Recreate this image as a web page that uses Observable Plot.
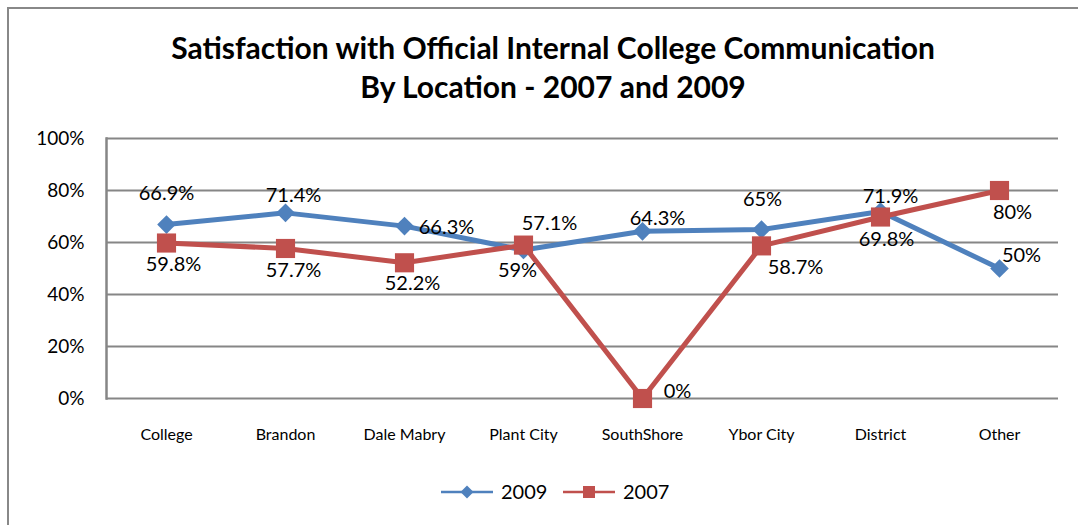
<!DOCTYPE html>
<html>
<head>
<meta charset="utf-8">
<script src="https://cdn.jsdelivr.net/npm/d3@7"></script>
<script src="https://cdn.jsdelivr.net/npm/@observablehq/plot@0.6"></script>
<style>
  html, body { margin: 0; padding: 0; background: #fff; }
  #wrap { position: relative; width: 1078px; height: 525px; overflow: hidden; background: #fff; font-family: Lato, "Open Sans", sans-serif; }
  #frame { position: absolute; left: 7px; top: 7px; width: 1200px; height: 700px; border-left: 2px solid #888; border-top: 2px solid #888; }
  #title { position: absolute; left: 0; top: 28px; width: 1106px; text-align: center; font-weight: bold; font-size: 30px; line-height: 39px; color: #000; }
  #chart { position: absolute; left: 0; top: 118px; }
  #legend { position: absolute; left: 0; top: 478px; width: 1078px; height: 30px; }
</style>
</head>
<body>
<div id="wrap">
  <div id="frame"></div>
  <div id="title">Satisfaction with Official Internal College Communication<br>By Location - 2007 and 2009</div>
  <div id="chart"></div>
  <div id="legend"></div>
</div>
<script>
// ---- data ----
const categories = ["College", "Brandon", "Dale Mabry", "Plant City", "SouthShore", "Ybor City", "District", "Other"];
const values2009 = [66.9, 71.4, 66.3, 57.1, 64.3, 65, 71.9, 50];
const values2007 = [59.8, 57.7, 52.2, 59, 0, 58.7, 69.8, 80];
const seriesNames = ["2009", "2007"];
const yTicks = [0, 20, 40, 60, 80, 100];

// ---- styling ----
const colors = {"2009": "#4F81BD", "2007": "#C0504D"};
const gridColor = "#868686";
// label offsets (px) relative to each point, per series
const labelOffsets = {
  "2009": [[0, -31], [8, -17], [42, 1], [26, -26], [15, -13], [1, -30], [10, -15], [22, -13]],
  "2007": [[7, 22], [8, 22], [8, 21], [-6, 25], [35, -7], [34, 22], [6, 23], [13, 22]]
};

const rows = [];
seriesNames.forEach((s) => {
  const vals = s === "2009" ? values2009 : values2007;
  categories.forEach((c, i) => rows.push({series: s, cat: c, value: vals[i], idx: i}));
});
const fmt = (v) => `${v}%`;

const marks = [
  Plot.ruleY(yTicks, {stroke: gridColor, strokeWidth: 2}),
  Plot.frame({anchor: "left", stroke: gridColor, strokeWidth: 2.5})
];
seriesNames.forEach((s) => {
  const data = rows.filter((d) => d.series === s);
  marks.push(
    Plot.line(data, {x: "cat", y: "value", stroke: colors[s], strokeWidth: 5, strokeLinejoin: "round", strokeLinecap: "butt"}),
    Plot.dot(data, {x: "cat", y: "value", fill: colors[s], stroke: "none",
      symbol: s === "2009" ? "diamond2" : "square", r: s === "2009" ? 8.4 : 10.8})
  );
});
seriesNames.forEach((s) => {
  rows.filter((d) => d.series === s).forEach((d) => {
    const [dx, dy] = labelOffsets[s][d.idx];
    marks.push(Plot.text([d], {x: "cat", y: "value", text: (e) => fmt(e.value), dx, dy,
      fontSize: 20, fill: "#000", fontFamily: "Lato, sans-serif"}));
  });
});

const chart = Plot.plot({
  width: 1078,
  height: 337,
  marginLeft: 106,
  marginRight: 20,
  marginTop: 20,
  marginBottom: 57,
  style: {fontFamily: "Lato, sans-serif", background: "transparent", overflow: "visible"},
  x: {type: "point", domain: categories, padding: 0.5, label: null, tickSize: 0, tickPadding: 30, fontSize: 16},
  y: {domain: [0, 100], ticks: yTicks, tickFormat: (d) => `${d}%`, label: null, tickSize: 0, tickPadding: 22},
  marks: [
    ...marks,
    Plot.axisX({tickSize: 0, tickPadding: 30, fontSize: 16, fill: "#000", label: null}),
    Plot.axisY(yTicks, {tickSize: 0, tickPadding: 22, fontSize: 19, fill: "#000", tickFormat: (d) => `${d}%`, label: null})
  ]
});
chart.querySelectorAll("text").forEach(t => t.style.fill = "#000");
document.getElementById("chart").appendChild(chart);

// ---- legend ----
const lg = d3.select("#legend").append("svg").attr("width", 1078).attr("height", 30);
const legendItems = [
  {name: "2009", x0: 441, sym: "diamond"},
  {name: "2007", x0: 563, sym: "square"}
];
legendItems.forEach((it) => {
  const g = lg.append("g");
  g.append("line").attr("x1", it.x0).attr("x2", it.x0 + 52).attr("y1", 14).attr("y2", 14)
    .attr("stroke", colors[it.name]).attr("stroke-width", 2.5);
  const cx = it.x0 + 26, cy = 14;
  if (it.sym === "diamond") {
    g.append("path").attr("d", `M${cx},${cy - 6.5}L${cx + 6.5},${cy}L${cx},${cy + 6.5}L${cx - 6.5},${cy}Z`).attr("fill", colors[it.name]);
  } else {
    g.append("rect").attr("x", cx - 6).attr("y", cy - 6).attr("width", 12).attr("height", 12).attr("fill", colors[it.name]);
  }
  g.append("text").attr("x", it.x0 + 60).attr("y", 14).attr("dy", "0.35em")
    .attr("font-size", 20).attr("font-family", "Lato, sans-serif").attr("fill", "#000").text(it.name);
});
</script>
</body>
</html>
